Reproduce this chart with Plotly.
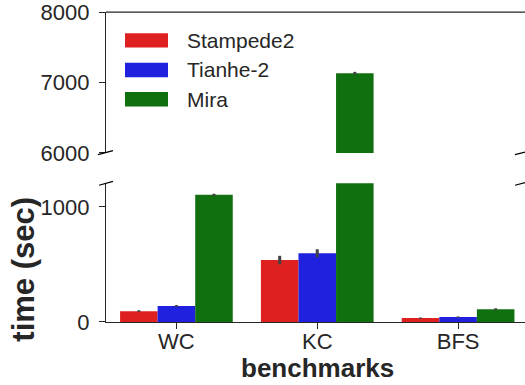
import plotly.graph_objects as go

# ---- data ----
benchmarks = ["WC", "KC", "BFS"]
systems = ["Stampede2", "Tianhe-2", "Mira"]
stampede2 = [94, 538, 34]
tianhe2 = [139, 598, 43]
mira = [1105, 7130, 111]
stampede2_err = [8, 37, 5]
tianhe2_err = [8, 35, 5]
mira_err = [10, 20, 8]
colors = ["#df2020", "#2020df", "#107010"]

values = [stampede2, tianhe2, mira]
errors = [stampede2_err, tianhe2_err, mira_err]

W, H = 525, 385
ML, MR, MT, MB = 106, 0, 8, 63
PW, PH = W - ML - MR, H - MT - MB
FONT = "Liberation Sans, Arial, sans-serif"
INK = "#262626"


def px(x):
    return (x - ML) / PW


def py(y):
    return (H - MB - y) / PH


fig = go.Figure()
for name, vals, errs, col in zip(systems, values, errors, colors):
    for xa, ya in (("x", "y"), ("x2", "y2")):
        fig.add_trace(go.Bar(
            x=benchmarks, y=vals, name=name, xaxis=xa, yaxis=ya,
            marker=dict(color=col, line=dict(width=0)),
            error_y=dict(type="data", array=errs, color="#424242",
                         thickness=3, width=0),
            showlegend=False,
        ))

axis_common = dict(showline=True, linecolor=INK, linewidth=1.25,
                   ticks="outside", ticklen=6, tickwidth=1.25, tickcolor=INK,
                   showgrid=False, zeroline=False, ticklabeloverflow="allow",
                   tickfont=dict(family=FONT, size=22, color=INK))

fig.update_layout(
    width=W, height=H,
    margin=dict(l=ML, r=MR, t=MT, b=MB),
    paper_bgcolor="white", plot_bgcolor="white",
    barmode="group", bargap=0.2, bargroupgap=0,
    showlegend=False,
    xaxis=dict(domain=[0, 1], anchor="y", range=[-0.5, 2.475],
               ticklabelstandoff=-7, **axis_common),
    xaxis2=dict(domain=[0, 1], anchor="y2", matches="x", visible=False,
                range=[-0.5, 2.475]),
    yaxis=dict(domain=[0, py(181.5)], anchor="x", range=[0, 1205],
               tickvals=[0, 1000], ticklabelstandoff=5, **axis_common),
    yaxis2=dict(domain=[py(150.7), 1], anchor="x2", range=[6000, 8000],
                tickvals=[6000, 7000, 8000], ticklabelstandoff=5, **axis_common),
)

shapes = []
# top spine of upper panel
shapes.append(dict(type="line", xref="paper", yref="paper", x0=0, x1=1.02,
                   y0=1, y1=1, line=dict(color=INK, width=1.25)))
# break marks
for (x0, y0, x1, y1) in [(98, 152.5, 113, 148.5), (99, 183.5, 113, 179.5),
                         (515, 152.5, 530, 148.5), (515, 183.5, 530, 179.5)]:
    shapes.append(dict(type="line", xref="paper", yref="paper",
                       x0=px(x0), y0=py(y0), x1=px(x1), y1=py(y1),
                       line=dict(color="black", width=1.25)))
# legend swatches
legend_y = [36.7, 66.7, 96.3]
for col, yc in zip(colors, legend_y):
    shapes.append(dict(type="rect", xref="paper", yref="paper",
                       x0=px(125), x1=px(168), y0=py(yc - 7.3), y1=py(yc + 7.3),
                       fillcolor=col, line=dict(width=0)))
fig.update_layout(shapes=shapes)

annotations = []
for name, yc in zip(systems, legend_y):
    annotations.append(dict(text=name, xref="paper", yref="paper",
                            x=px(185), y=py(yc), xanchor="left", yanchor="middle",
                            showarrow=False,
                            font=dict(family=FONT, size=21, color=INK)))
annotations.append(dict(text="<b>benchmarks</b>", xref="paper", yref="paper",
                        x=px(317.5), y=py(369), xanchor="center", yanchor="middle",
                        showarrow=False,
                        font=dict(family=FONT, size=26, color=INK)))
annotations.append(dict(text="<b>time (sec)</b>", xref="paper", yref="paper",
                        x=px(24), y=py(269), xanchor="center", yanchor="middle",
                        textangle=-90, showarrow=False,
                        font=dict(family=FONT, size=31, color=INK)))
fig.update_layout(annotations=annotations)

fig.write_html("out.html", config={"displayModeBar": False},
               post_script="document.body.style.margin='0';")
